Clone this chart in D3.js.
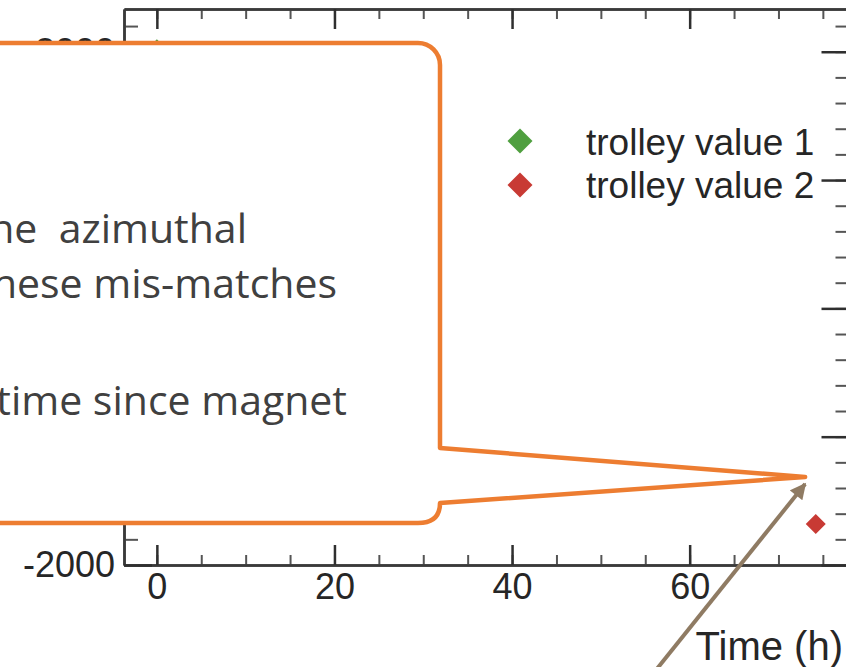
<!DOCTYPE html>
<html>
<head>
<meta charset="utf-8">
<script src="https://cdn.jsdelivr.net/npm/d3@7"></script>
<style>
  body { margin: 0; background: #fff; }
  svg { display: block; }
</style>
</head>
<body>
<div id="my_dataviz"></div>
<script>
// data
const seriesNames = ["trolley value 1", "trolley value 2"];
const seriesColors = ["#4f9f3f", "#c83a34"];
const hours1 = [0];
const values1 = [2020];
const hours2 = [74.2];
const values2 = [-1680];
const xMajorTicks = [0, 20, 40, 60];
const yMajorTicks = [-2000, -1000, 0, 1000, 2000];
const calloutLines = ["the  azimuthal", "these mis-matches", "time since magnet"];

const width = 846, height = 667;
const chartFont = "'Liberation Sans', Arial, Helvetica, sans-serif";

const svg = d3.select("#my_dataviz")
  .append("svg")
  .attr("width", width)
  .attr("height", height);

// scales (plot frame runs off the right side of the crop)
const x = d3.scaleLinear().domain([-3.7, 78]).range([124, 849.5]);
const y = d3.scaleLinear().domain([-2000, 2333]).range([565, 9]);

const xMinor = d3.range(0, 80, 5);
const yMinor = d3.range(-2000, 2400, 200);
const plain = d => String(d).replace("\u2212", "-");

function styleAxis(g, major) {
  g.select(".domain").attr("stroke", "#3a3a3a").attr("stroke-width", 2.5);
  g.selectAll(".tick line")
    .attr("stroke", major ? "#2f2f2f" : "#555")
    .attr("stroke-width", major ? 2.5 : 2);
  g.selectAll(".tick text")
    .attr("fill", "#262626")
    .style("font-family", chartFont)
    .style("font-size", "36px");
}

// bottom axis
svg.append("g")
  .attr("transform", `translate(0, ${y(-2000)})`)
  .call(d3.axisBottom(x).tickValues(xMinor).tickSize(-10).tickSizeOuter(0).tickFormat(""))
  .call(g => styleAxis(g, false));
svg.append("g")
  .attr("transform", `translate(0, ${y(-2000)})`)
  .call(d3.axisBottom(x).tickValues(xMajorTicks).tickSize(-20).tickSizeOuter(0).tickPadding(8).tickFormat(plain))
  .call(g => styleAxis(g, true));

// top axis
svg.append("g")
  .attr("transform", `translate(0, ${y(2333)})`)
  .call(d3.axisTop(x).tickValues(xMinor).tickSize(-10).tickSizeOuter(0).tickFormat(""))
  .call(g => styleAxis(g, false));
svg.append("g")
  .attr("transform", `translate(0, ${y(2333)})`)
  .call(d3.axisTop(x).tickValues(xMajorTicks).tickSize(-20).tickSizeOuter(0).tickFormat(""))
  .call(g => styleAxis(g, true));

// left axis
svg.append("g")
  .attr("transform", `translate(${x(-3.7)}, 0)`)
  .call(d3.axisLeft(y).tickValues(yMinor).tickSize(-14).tickSizeOuter(0).tickFormat(""))
  .call(g => styleAxis(g, false));
svg.append("g")
  .attr("transform", `translate(${x(-3.7)}, 0)`)
  .call(d3.axisLeft(y).tickValues(yMajorTicks).tickSize(-28).tickSizeOuter(0).tickPadding(9).tickFormat(plain))
  .call(g => styleAxis(g, true));

// right axis
svg.append("g")
  .attr("transform", `translate(${x(78)}, 0)`)
  .call(d3.axisRight(y).tickValues(yMinor).tickSize(-14).tickSizeOuter(0).tickFormat(""))
  .call(g => styleAxis(g, false));
svg.append("g")
  .attr("transform", `translate(${x(78)}, 0)`)
  .call(d3.axisRight(y).tickValues(yMajorTicks).tickSize(-28).tickSizeOuter(0).tickFormat(""))
  .call(g => styleAxis(g, true));

// x axis label
svg.append("text")
  .attr("text-anchor", "end")
  .attr("x", 843)
  .attr("y", 660)
  .attr("fill", "#262626")
  .style("font-family", chartFont)
  .style("font-size", "40px")
  .text("Time (h)");

// points
const diamond = d3.symbol().type(d3.symbolSquare).size(200);
const pts = [
  ...hours1.map((h, i) => ({h: h, v: values1[i], s: 0})),
  ...hours2.map((h, i) => ({h: h, v: values2[i], s: 1}))
];
svg.append("g")
  .selectAll("path")
  .data(pts)
  .join("path")
    .attr("d", diamond)
    .attr("transform", d => `translate(${x(d.h)}, ${y(d.v)}) rotate(45)`)
    .attr("fill", d => seriesColors[d.s]);

// legend
const legend = svg.append("g");
seriesNames.forEach((name, i) => {
  legend.append("path")
    .attr("d", d3.symbol().type(d3.symbolSquare).size(312)())
    .attr("transform", `translate(520, ${141 + i * 44}) rotate(45)`)
    .attr("fill", seriesColors[i]);
  legend.append("text")
    .attr("x", 586)
    .attr("y", 155 + i * 43)
    .attr("fill", "#262626")
    .style("font-family", chartFont)
    .style("font-size", "37px")
    .text(name);
});

// callout box from the slide, pointing into the plot
const tip = [x(73), y(-1314)];
const callout = d3.path();
callout.moveTo(-20, 43);
callout.lineTo(418, 43);
callout.arcTo(440, 43, 440, 65, 22);
callout.lineTo(440, 448);
callout.lineTo(tip[0], tip[1]);
callout.lineTo(440, 503);
callout.quadraticCurveTo(440, 523, 418, 523);
callout.lineTo(-20, 523);
callout.closePath();

svg.append("path")
  .attr("d", callout.toString())
  .attr("fill", "#fff")
  .attr("stroke", "#ed7d31")
  .attr("stroke-width", 4.5)
  .attr("stroke-linejoin", "round");

const lineX = [247, 337, 347];
const lineY = [243, 298, 415];
svg.append("g")
  .selectAll("text")
  .data(calloutLines)
  .join("text")
    .attr("text-anchor", "end")
    .attr("x", (d, i) => lineX[i])
    .attr("y", (d, i) => lineY[i])
    .attr("fill", "#404040")
    .style("white-space", "pre")
    .style("font-family", "'Open Sans', 'Noto Sans', sans-serif")
    .style("font-size", "41px")
    .text(d => d);

// brown arrow
svg.append("defs").append("marker")
  .attr("id", "arrowhead")
  .attr("markerUnits", "userSpaceOnUse")
  .attr("viewBox", "0 0 10 10")
  .attr("refX", 9)
  .attr("refY", 5)
  .attr("markerWidth", 18)
  .attr("markerHeight", 16)
  .attr("orient", "auto")
  .append("path")
    .attr("d", "M0,0 L10,5 L0,10 Z")
    .attr("fill", "#8f7b63");

svg.append("line")
  .attr("x1", 652)
  .attr("y1", 675)
  .attr("x2", x(73))
  .attr("y2", y(-1369))
  .attr("stroke", "#8f7b63")
  .attr("stroke-width", 4)
  .attr("marker-end", "url(#arrowhead)");
</script>
</body>
</html>
